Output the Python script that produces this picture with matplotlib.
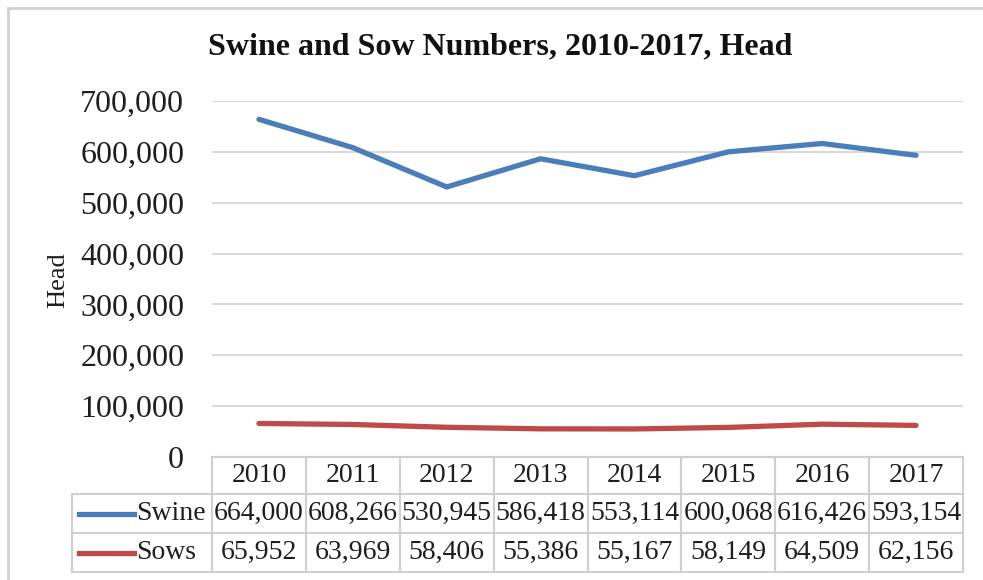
import matplotlib
matplotlib.use('Agg')
import matplotlib.pyplot as plt
from matplotlib.lines import Line2D
from matplotlib.transforms import blended_transform_factory

plt.rcParams['font.family'] = ['Liberation Serif', 'DejaVu Serif']

years = ['2010', '2011', '2012', '2013', '2014', '2015', '2016', '2017']
swine = [664000, 608266, 530945, 586418, 553114, 600068, 616426, 593154]
sows = [65952, 63969, 58406, 55386, 55167, 58149, 64509, 62156]
series_names = ['Swine', 'Sows']
yticks = [0, 100000, 200000, 300000, 400000, 500000, 600000, 700000]

C_SWINE = '#4a7ebb'
C_SOWS = '#be4b48'
C_GRID = '#d9d9d9'
C_TABLE = '#cfcfcf'
C_TEXT = '#1e1e1e'

W, H = 983, 580
fig = plt.figure(figsize=(W / 100, H / 100), dpi=100)

def fx(px): return px / W
def fy(py): return 1 - py / H

# plot area in pixels
L, R, T, B = 212, 963, 101, 457
ax = fig.add_axes([fx(L), fy(B), fx(R - L), (B - T) / H])
n = len(years)
x = list(range(n))
ax.set_xlim(-0.5, n - 0.5)
ax.set_ylim(0, 700000)

for v in yticks[1:]:
    ax.axhline(v, color=C_GRID, lw=1.5, zorder=0)

ax.plot(x, swine, color=C_SWINE, lw=3.8, solid_capstyle='round', zorder=3)
ax.plot(x, sows, color=C_SOWS, lw=3.8, solid_capstyle='round', zorder=3)

for s in ax.spines.values():
    s.set_visible(False)
ax.set_xticks([])
ax.set_yticks(yticks)
ax.set_yticklabels([f'{v:,}' for v in yticks], fontsize=23, color=C_TEXT)
ax.tick_params(axis='y', length=0, pad=20)

fig.text(fx(58), fy(280), 'Head', rotation=90, ha='center', va='center',
         fontsize=19, color=C_TEXT)

fig.text(fx(500), fy(47), 'Swine and Sow Numbers, 2010-2017, Head',
         ha='center', va='center', fontsize=23, fontweight='bold',
         color='#111111')

# data table under the plot
tr = blended_transform_factory(ax.transData, fig.transFigure)
col_w = (R - L) / n
x_left = -0.5 - (L - 72) / col_w
rows = [457, 494, 533, 572]

def hline(x0, x1, py):
    ax.plot([x0, x1], [fy(py), fy(py)], transform=tr, color=C_TABLE,
            lw=1.5, clip_on=False)

def vline(xd, p0, p1):
    ax.plot([xd, xd], [fy(p0), fy(p1)], transform=tr, color=C_TABLE,
            lw=1.5, clip_on=False)

hline(-0.5, n - 0.5, rows[0])
for py in rows[1:]:
    hline(x_left, n - 0.5, py)
vline(x_left, rows[1], rows[3])
for i in range(n + 1):
    vline(i - 0.5, rows[0], rows[3])

for i, yr in enumerate(years):
    ax.text(i, fy((rows[0] + rows[1]) / 2), yr, transform=tr, ha='center',
            va='center', fontsize=20, color=C_TEXT)

for r, (name, vals, col) in enumerate(zip(series_names, [swine, sows],
                                          [C_SWINE, C_SOWS])):
    yc = fy((rows[r + 1] + rows[r + 2]) / 2)
    ax.plot([x_left + 7 / col_w, x_left + 62 / col_w], [yc, yc],
            transform=tr, color=col, lw=3.8, clip_on=False)
    ax.text(x_left + 64 / col_w, yc, name, transform=tr, ha='left',
            va='center', fontsize=20, color=C_TEXT)
    for i, v in enumerate(vals):
        ax.text(i, yc, f'{v:,}', transform=tr, ha='center', va='center',
                fontsize=20, color=C_TEXT)

# chart frame: only the top and left edges fall inside the image
fig.add_artist(Line2D([fx(8), 1], [fy(8), fy(8)], transform=fig.transFigure,
                      color='#d0d0d0', lw=2))
fig.add_artist(Line2D([fx(8), fx(8)], [fy(8), 0], transform=fig.transFigure,
                      color='#d0d0d0', lw=2))

fig.savefig('out.png', dpi=100)
